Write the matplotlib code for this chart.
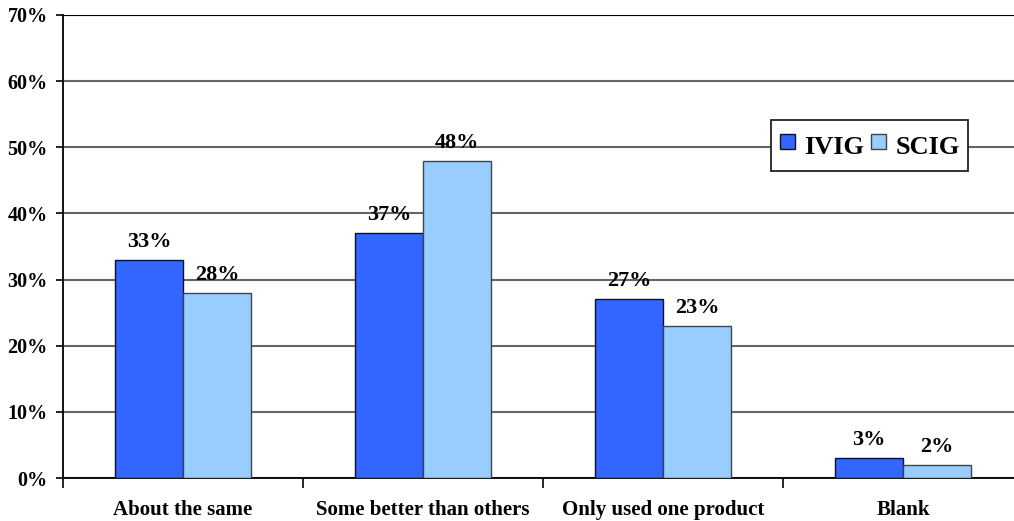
import matplotlib
matplotlib.use("Agg")
import matplotlib.pyplot as plt
import numpy as np
from matplotlib.ticker import FuncFormatter, FixedLocator
from matplotlib.lines import Line2D

categories = ["About the same", "Some better than others", "Only used one product", "Blank"]
ivig = [33, 37, 27, 3]
scig = [28, 48, 23, 2]
series_names = ["IVIG", "SCIG"]
yticks = [0, 10, 20, 30, 40, 50, 60, 70]
colors = ['#3366FF', '#99CCFF']
edges = ['#111111', '#444444']

plt.rcParams['font.family'] = ['Liberation Serif', 'DejaVu Serif']
plt.rcParams['font.weight'] = 'bold'

fig = plt.figure(figsize=(10.14, 5.21), dpi=100)
# axes extends slightly past the right edge of the image, as in the reference
ax = fig.add_axes([63/1014, 43/521, 960/1014, 463/521])

x = np.arange(len(categories))
w = 0.283
b1 = ax.bar(x - w/2, ivig, w, color=colors[0], edgecolor=edges[0], linewidth=1.0, zorder=3)
b2 = ax.bar(x + w/2, scig, w, color=colors[1], edgecolor=edges[1], linewidth=1.0, zorder=3)

for rects, vals in ((b1, ivig), (b2, scig)):
    for r, v in zip(rects, vals):
        ax.text(r.get_x() + r.get_width()/2, v + 1.2, f"{v}%", ha='center', va='bottom',
                fontsize=16, fontweight='bold')

ax.set_xlim(-0.5, len(categories) - 0.5)
ax.set_ylim(0, 70)
ax.set_yticks(yticks)
ax.yaxis.set_major_formatter(FuncFormatter(lambda v, p: f"{int(v)}%"))
ax.grid(axis='y', color='#666666', linewidth=1.5, zorder=0)
ax.set_axisbelow(True)

ax.set_xticks(x)
ax.set_xticklabels(categories, fontsize=15, fontweight='bold')
ax.tick_params(axis='x', length=0, pad=16)
ax.xaxis.set_minor_locator(FixedLocator(np.arange(-0.5, len(categories), 1.0)))
ax.tick_params(axis='x', which='minor', length=7, width=1.2, color='black')
ax.tick_params(axis='y', length=5, width=1.2, labelsize=14.5, pad=6)
for lbl in ax.get_yticklabels():
    lbl.set_fontweight('bold')

ax.spines['right'].set_visible(False)
ax.spines['top'].set_visible(False)
ax.spines['left'].set_linewidth(1.3)
ax.spines['bottom'].set_linewidth(1.3)
ax.axhline(70, color='black', linewidth=1.5, zorder=1)

handles = [Line2D([], [], linestyle='none', marker='s', markersize=10.8,
                  markerfacecolor=c, markeredgecolor=e, markeredgewidth=1.0)
           for c, e in zip(colors, edges)]
leg = ax.legend(handles, series_names, loc='upper left', bbox_to_anchor=(0.7375, 0.773), ncol=2,
                frameon=True, fancybox=False,
                edgecolor='#222222', prop={'weight': 'bold', 'size': 19},
                handlelength=0.6, handleheight=1.65, handletextpad=0.35, columnspacing=0.25,
                borderpad=0.3, borderaxespad=0, framealpha=1)
leg.get_frame().set_linewidth(1.3)

fig.savefig("out.png", dpi=100, facecolor='white')
